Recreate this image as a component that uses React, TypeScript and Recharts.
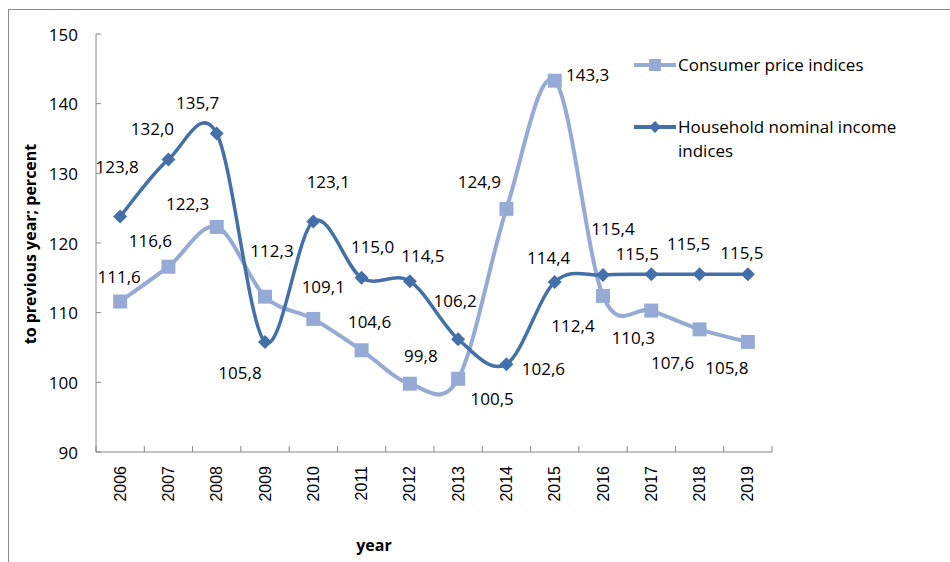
import React from 'react';
import { LineChart, Line, XAxis, YAxis, LabelList } from 'recharts';

// values
const years = ['2006', '2007', '2008', '2009', '2010', '2011', '2012', '2013', '2014', '2015', '2016', '2017', '2018', '2019'];
const cpiValues = [111.6, 116.6, 122.3, 112.3, 109.1, 104.6, 99.8, 100.5, 124.9, 143.3, 112.4, 110.3, 107.6, 105.8];
const incomeValues = [123.8, 132.0, 135.7, 105.8, 123.1, 115.0, 114.5, 106.2, 102.6, 114.4, 115.4, 115.5, 115.5, 115.5];
const yTicks = [90, 100, 110, 120, 130, 140, 150];

const CPI_NAME = 'Consumer price indices';
const INCOME_NAME = 'Household nominal income indices';

// label placement (dx, dy from the point), hand tuned like the manually moved excel labels
const cpiLabelShift = [[-1, -25], [-18, -26], [-29, -23], [7, -46], [10, -32], [8, -29], [11, -28], [34, 20], [-27, -27], [33, -6], [-30, 30], [-18, 27], [-27, 33], [-21, 26]];
const incomeLabelShift = [[-3, -50], [-16, -31], [-19, -31], [-25, 31], [15, -40], [11, -31], [13, -26], [-3, -39], [37, 4], [-6, -25], [10, -47], [-14, -21], [-11, -31], [-6, -22]];

const data = years.map((year, i) => ({ year, cpi: cpiValues[i], income: incomeValues[i] }));

const W = 950;
const H = 562;
const PLOT_LEFT = 96;
const PLOT_RIGHT = 772;
const PLOT_TOP = 34;
const PLOT_BOTTOM = 452;
const BAND = (PLOT_RIGHT - PLOT_LEFT) / years.length;

const CPI_COLOR = '#95abd6';
const INCOME_COLOR = '#4470a9';
const AXIS_COLOR = '#868686';
const FONT = '"Open Sans", "Noto Sans", sans-serif';

// excel style smoothed line (catmull-rom through every point)
const excelCurve = (context: any) => {
  let pts: number[][] = [];
  return {
    areaStart() {},
    areaEnd() {},
    lineStart() { pts = []; },
    point(x: number, y: number) { pts.push([+x, +y]); },
    lineEnd() {
      if (!pts.length) return;
      context.moveTo(pts[0][0], pts[0][1]);
      for (let i = 0; i < pts.length - 1; i++) {
        const p0 = pts[Math.max(i - 1, 0)];
        const p1 = pts[i];
        const p2 = pts[i + 1];
        const p3 = pts[Math.min(i + 2, pts.length - 1)];
        context.bezierCurveTo(
          p1[0] + (p2[0] - p0[0]) / 6, p1[1] + (p2[1] - p0[1]) / 6,
          p2[0] - (p3[0] - p1[0]) / 6, p2[1] - (p3[1] - p1[1]) / 6,
          p2[0], p2[1]
        );
      }
    },
  };
};

const fmt = (v: number) => v.toFixed(1).replace('.', ',');

const Square = (props: any) => {
  const { cx, cy, index } = props;
  if (cx == null || cy == null) return null;
  return <rect key={`sq-${index}`} x={cx - 7} y={cy - 7} width={14} height={14} fill={CPI_COLOR} />;
};

const Diamond = (props: any) => {
  const { cx, cy, index } = props;
  if (cx == null || cy == null) return null;
  return (
    <path key={`dm-${index}`} d={`M${cx},${cy - 7}L${cx + 7},${cy}L${cx},${cy + 7}L${cx - 7},${cy}Z`} fill={INCOME_COLOR} />
  );
};

const makeLabel = (shifts: number[][]) => (props: any) => {
  const { index, value } = props;
  const x = props.x ?? props.viewBox?.x;
  const y = props.y ?? props.viewBox?.y;
  if (x == null || y == null) return null;
  const [dx, dy] = shifts[index] || [0, -20];
  return (
    <text key={`lb-${index}`} x={x + dx} y={y + dy} textAnchor="middle" dominantBaseline="central"
      fontFamily={FONT} fontSize={17} fill="#000">
      {fmt(Number(value))}
    </text>
  );
};

const YearTick = (props: any) => {
  const { x, payload, index } = props;
  const left = x - BAND / 2;
  return (
    <g>
      <line x1={left} x2={left} y1={PLOT_BOTTOM - 6} y2={PLOT_BOTTOM} stroke={AXIS_COLOR} />
      {index === years.length - 1 && (
        <line x1={x + BAND / 2} x2={x + BAND / 2} y1={PLOT_BOTTOM - 6} y2={PLOT_BOTTOM} stroke={AXIS_COLOR} />
      )}
      <text x={x} y={PLOT_BOTTOM + 14} transform={`rotate(-90, ${x}, ${PLOT_BOTTOM + 14})`}
        textAnchor="end" dominantBaseline="central" fontFamily='"Liberation Sans", Arial, sans-serif'
        fontSize={16} fill="#000">
        {payload.value}
      </text>
    </g>
  );
};

const ValueTick = (props: any) => {
  const { y, payload } = props;
  return (
    <g>
      <line x1={PLOT_LEFT} x2={PLOT_LEFT + 5} y1={y} y2={y} stroke={AXIS_COLOR} />
      <text x={78} y={y} textAnchor="end" dominantBaseline="central" fontFamily={FONT} fontSize={17} fill="#000">
        {payload.value}
      </text>
    </g>
  );
};

const LegendBox = () => (
  <div style={{ position: 'absolute', left: 632, top: 53, fontFamily: FONT, fontSize: 17, color: '#000', width: 290 }}>
    <div style={{ display: 'flex', alignItems: 'flex-start', height: 62 }}>
      <svg width={46} height={24} style={{ flex: 'none' }}>
        <line x1={2} x2={44} y1={12} y2={12} stroke={CPI_COLOR} strokeWidth={4} />
        <rect x={17} y={6} width={12} height={12} fill={CPI_COLOR} />
      </svg>
      <span style={{ lineHeight: '24px' }}>{CPI_NAME}</span>
    </div>
    <div style={{ display: 'flex', alignItems: 'flex-start' }}>
      <svg width={46} height={24} style={{ flex: 'none' }}>
        <line x1={2} x2={44} y1={12} y2={12} stroke={INCOME_COLOR} strokeWidth={4} />
        <path d="M23,6L29,12L23,18L17,12Z" fill={INCOME_COLOR} />
      </svg>
      <span style={{ lineHeight: '24px', width: 230 }}>{INCOME_NAME}</span>
    </div>
  </div>
);

export default function App() {
  return (
    <div style={{ position: 'absolute', left: 0, top: 0, width: W, height: H, background: '#fff', overflow: 'hidden' }}>
      <div style={{ position: 'absolute', left: 8, top: 9, width: 980, height: 600, borderTop: '1px solid #8c8c8c', borderLeft: '1px solid #8c8c8c' }} />
      <div style={{ position: 'absolute', left: 0, top: 0 }}>
        <LineChart width={W} height={H} data={data}
          margin={{ top: PLOT_TOP, right: W - PLOT_RIGHT, bottom: H - PLOT_BOTTOM - 60, left: PLOT_LEFT - 60 }}>
          <XAxis dataKey="year" height={60} stroke={AXIS_COLOR} tickLine={false} tickSize={0} tick={<YearTick />}
            interval={0} padding={{ left: BAND / 2, right: BAND / 2 }} />
          <YAxis width={60} domain={[90, 150]} ticks={yTicks} stroke={AXIS_COLOR} tickLine={false} tickSize={0}
            tick={<ValueTick />} allowDataOverflow />
          <Line type={excelCurve as any} dataKey="cpi" name={CPI_NAME} stroke={CPI_COLOR} strokeWidth={4}
            dot={Square} activeDot={false} isAnimationActive={false}>
            <LabelList dataKey="cpi" content={makeLabel(cpiLabelShift)} />
          </Line>
          <Line type={excelCurve as any} dataKey="income" name={INCOME_NAME} stroke={INCOME_COLOR} strokeWidth={3.5}
            dot={Diamond} activeDot={false} isAnimationActive={false}>
            <LabelList dataKey="income" content={makeLabel(incomeLabelShift)} />
          </Line>
        </LineChart>
      </div>
      <LegendBox />
      <div style={{ position: 'absolute', left: 30, top: 244, transform: 'translate(-50%, -50%) rotate(-90deg)',
        whiteSpace: 'nowrap', fontFamily: FONT, fontWeight: 700, fontSize: 16, color: '#000' }}>
        to previous year; percent
      </div>
      <div style={{ position: 'absolute', left: 374, top: 545, transform: 'translate(-50%, -50%)',
        fontFamily: FONT, fontWeight: 700, fontSize: 16, color: '#000' }}>
        year
      </div>
    </div>
  );
}
